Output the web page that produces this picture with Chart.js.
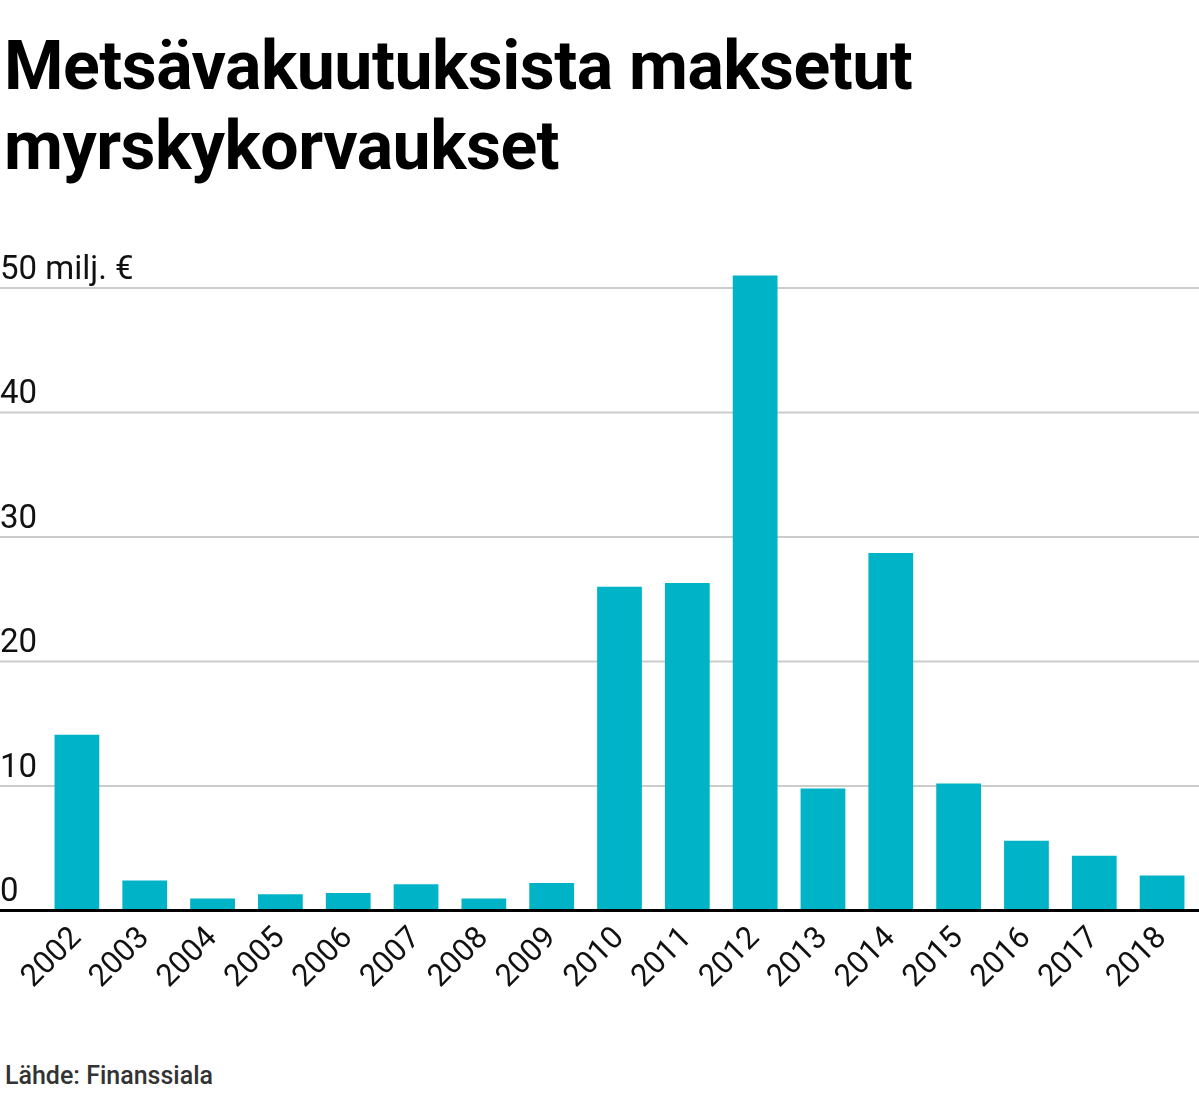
<!DOCTYPE html>
<html><head><meta charset="utf-8">
<script src="https://cdn.jsdelivr.net/npm/chart.js@4"></script>
<style>
body{margin:0;width:1199px;height:1105px;background:#fff;font-family:Roboto,sans-serif;position:relative;overflow:hidden}
h1{position:absolute;left:4px;top:26px;margin:0;font-size:68px;line-height:80px;font-weight:700;color:#000;letter-spacing:-0.5px}
#src{position:absolute;left:5px;top:1061px;font-size:25px;font-weight:500;color:#333}
#wrap{position:absolute;left:0;top:240px;width:1199px;height:758px}
</style></head><body>
<h1>Metsävakuutuksista maksetut<br>myrskykorvaukset</h1>
<div id="wrap"><canvas id="c"></canvas></div>
<div id="src">Lähde: Finanssiala</div>
<script>
const years=['2002','2003','2004','2005','2006','2007','2008','2009','2010','2011','2012','2013','2014','2015','2016','2017','2018'];
const values=[14.1,2.4,0.95,1.3,1.4,2.1,0.95,2.2,26.0,26.3,51.0,9.8,28.7,10.2,5.6,4.4,2.8];
const yTicks=[0,10,20,30,40,50];
const yLabels=['0','10','20','30','40','50 milj. €'];
const gridPlugin={id:'g',beforeDatasetsDraw(ch){const{ctx,scales:{y},width}=ch;ctx.save();
 yTicks.forEach((v,i)=>{const p=y.getPixelForValue(v);
  if(v!==0){ctx.strokeStyle='#cccccc';ctx.lineWidth=2;ctx.beginPath();ctx.moveTo(0,p);ctx.lineTo(width,p);ctx.stroke();}
  ctx.fillStyle='#111';ctx.font='33px Roboto';ctx.textBaseline='alphabetic';ctx.fillText(yLabels[i],0,p-9);});
 ctx.restore();},
 afterDatasetsDraw(ch){const{ctx,scales:{y},width}=ch;const p=y.getPixelForValue(0);ctx.save();ctx.strokeStyle='#000';ctx.lineWidth=3;ctx.beginPath();ctx.moveTo(0,p);ctx.lineTo(width,p);ctx.stroke();ctx.restore();}};
new Chart(document.getElementById('c'),{type:'bar',
 data:{labels:years,datasets:[{data:values,backgroundColor:'#00b3c7',categoryPercentage:0.66,barPercentage:1}]},
 options:{responsive:true,maintainAspectRatio:false,animation:false,
  layout:{padding:{left:43,right:3,top:23,bottom:0}},
  plugins:{legend:{display:false},tooltip:{enabled:false}},
  scales:{x:{grid:{display:false},border:{display:false},ticks:{color:'#111',font:{size:31,family:'Roboto'},maxRotation:45,minRotation:45,padding:2}},
   y:{min:0,max:52,display:false}}},
 plugins:[gridPlugin]});
</script></body></html>
